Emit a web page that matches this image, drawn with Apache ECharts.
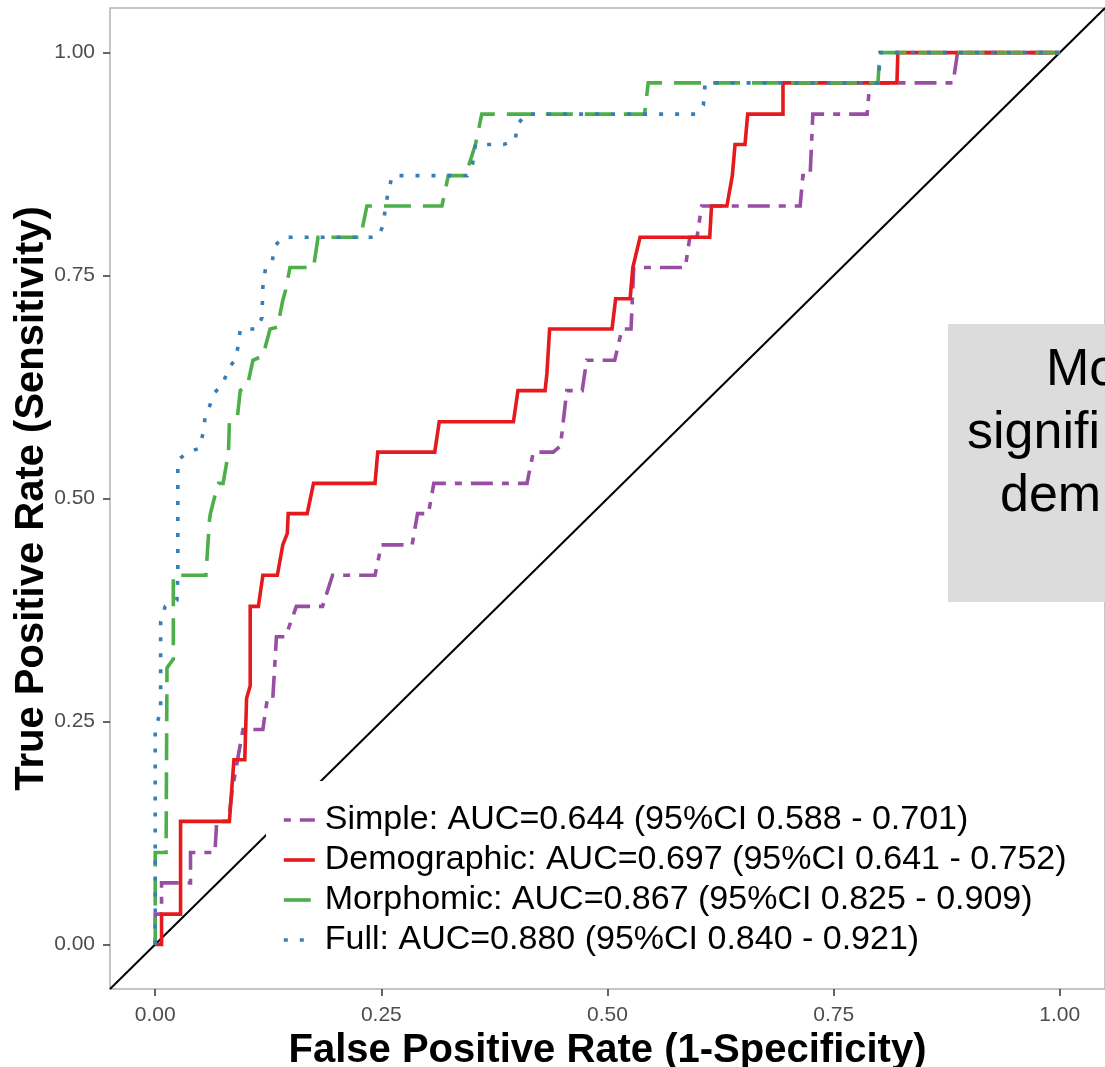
<!DOCTYPE html>
<html>
<head>
<meta charset="utf-8">
<script src="https://cdn.jsdelivr.net/npm/echarts@6/dist/echarts.min.js"></script>
<style>
html,body{margin:0;padding:0;background:#fff;}
#chart{width:1105px;height:1067px;}
</style>
</head>
<body>
<div id="chart"></div>
<script>
// ---- data ----
const tickValues = [0, 0.25, 0.5, 0.75, 1];
const seriesNames = [
  'Simple: AUC=0.644 (95%CI 0.588 - 0.701)',
  'Demographic: AUC=0.697 (95%CI 0.641 - 0.752)',
  'Morphomic: AUC=0.867 (95%CI 0.825 - 0.909)',
  'Full: AUC=0.880 (95%CI 0.840 - 0.921)'
];
const simplePts = [[0,0],[0,0.034],[0.007,0.034],[0.007,0.069],[0.039,0.069],[0.039,0.103],[0.066,0.103],[0.068,0.138],[0.081,0.138],[0.085,0.172],[0.091,0.207],[0.097,0.241],[0.119,0.241],[0.124,0.276],[0.130,0.276],[0.134,0.345],[0.144,0.345],[0.156,0.379],[0.185,0.379],[0.196,0.414],[0.243,0.414],[0.250,0.448],[0.284,0.448],[0.290,0.483],[0.302,0.483],[0.308,0.517],[0.411,0.517],[0.418,0.552],[0.440,0.552],[0.448,0.559],[0.455,0.621],[0.472,0.621],[0.477,0.655],[0.508,0.655],[0.516,0.690],[0.526,0.690],[0.529,0.759],[0.586,0.759],[0.591,0.793],[0.599,0.793],[0.604,0.828],[0.713,0.828],[0.716,0.862],[0.724,0.862],[0.727,0.931],[0.787,0.931],[0.790,0.966],[0.882,0.966],[0.887,1],[1,1]];
const demographicPts = [[0,0],[0.007,0],[0.007,0.034],[0.028,0.034],[0.028,0.138],[0.082,0.138],[0.087,0.207],[0.099,0.207],[0.101,0.276],[0.105,0.290],[0.105,0.379],[0.114,0.379],[0.119,0.414],[0.135,0.414],[0.141,0.448],[0.146,0.461],[0.147,0.483],[0.168,0.483],[0.175,0.517],[0.243,0.517],[0.246,0.552],[0.309,0.552],[0.314,0.586],[0.396,0.586],[0.401,0.621],[0.431,0.621],[0.433,0.640],[0.436,0.690],[0.505,0.690],[0.509,0.724],[0.525,0.724],[0.528,0.759],[0.536,0.793],[0.613,0.793],[0.615,0.828],[0.632,0.828],[0.638,0.862],[0.640,0.862],[0.641,0.897],[0.652,0.897],[0.655,0.931],[0.694,0.931],[0.694,0.966],[0.820,0.966],[0.821,1],[1,1]];
const morphomicPts = [[0,0],[0,0.103],[0.012,0.103],[0.013,0.310],[0.020,0.320],[0.020,0.414],[0.056,0.414],[0.060,0.476],[0.061,0.483],[0.066,0.503],[0.070,0.517],[0.075,0.517],[0.081,0.552],[0.082,0.586],[0.091,0.593],[0.094,0.621],[0.102,0.627],[0.108,0.655],[0.119,0.660],[0.127,0.690],[0.135,0.692],[0.141,0.722],[0.144,0.733],[0.149,0.759],[0.175,0.759],[0.180,0.793],[0.227,0.793],[0.234,0.828],[0.317,0.828],[0.324,0.862],[0.343,0.862],[0.354,0.897],[0.361,0.931],[0.541,0.931],[0.545,0.966],[0.799,0.966],[0.801,1],[1,1]];
const fullPts = [[0,0],[0,0.241],[0.006,0.262],[0.006,0.362],[0.011,0.379],[0.024,0.386],[0.025,0.414],[0.025,0.543],[0.036,0.552],[0.048,0.556],[0.053,0.573],[0.055,0.590],[0.061,0.606],[0.066,0.619],[0.075,0.629],[0.081,0.646],[0.088,0.655],[0.092,0.672],[0.094,0.690],[0.113,0.690],[0.118,0.703],[0.119,0.737],[0.122,0.759],[0.129,0.765],[0.133,0.784],[0.141,0.793],[0.246,0.793],[0.252,0.806],[0.254,0.823],[0.257,0.841],[0.262,0.862],[0.345,0.862],[0.351,0.876],[0.354,0.897],[0.385,0.897],[0.398,0.901],[0.400,0.918],[0.409,0.931],[0.597,0.931],[0.606,0.941],[0.608,0.966],[0.799,0.966],[0.802,1],[1,1]];
const diagonalPts = [[-0.05,-0.05],[1.05,1.05]];
const boxLines = ['Mo', 'signifi', 'dem'];

// ---- chart ----
const FONT = '"Liberation Sans", Arial, Helvetica, sans-serif';
const chart = echarts.init(document.getElementById('chart'), null, {renderer: 'canvas'});
const axisCommon = {
  type: 'value', min: -0.05, max: 1.05,
  splitLine: {show: false},
  axisLine: {show: false, onZero: false},
  axisTick: {show: true, customValues: tickValues, length: 7, lineStyle: {color: '#333', width: 1.5}},
  axisLabel: {customValues: tickValues, color: '#4d4d4d', fontSize: 21, fontFamily: FONT,
    formatter: v => v.toFixed(2)},
  nameLocation: 'middle',
  nameTextStyle: {fontSize: 40, fontWeight: 'bold', color: '#000', fontFamily: FONT}
};
function lineSeries(name, data, color, type) {
  return {
    name, type: 'line', data, symbol: 'none', smooth: false,
    lineStyle: {color, width: 3.6, type, cap: 'butt', join: 'miter'},
    itemStyle: {color}, z: 3
  };
}
chart.setOption({
  animation: false,
  grid: {left: 110, top: 8, right: 0, bottom: 78, containLabel: false, outerBoundsMode: 'none',
    show: true, borderColor: '#b3b3b3', borderWidth: 1.5, backgroundColor: '#fff'},
  xAxis: Object.assign({}, axisCommon, {
    name: 'False Positive Rate (1-Specificity)', nameGap: 33,
    axisLabel: Object.assign({}, axisCommon.axisLabel, {margin: 16})
  }),
  yAxis: Object.assign({}, axisCommon, {
    name: 'True Positive Rate (Sensitivity)', nameGap: 58, nameMoveOverlap: false,
    axisLabel: Object.assign({}, axisCommon.axisLabel, {margin: 15})
  }),
  legend: {
    orient: 'vertical', left: 266, top: 781,
    padding: [19, 20, 12, 16], itemGap: 0,
    itemWidth: 31, itemHeight: 14,
    backgroundColor: '#fff', z: 5,
    itemStyle: {opacity: 0},
    lineStyle: {width: 3.6},
    textStyle: {fontSize: 34, fontFamily: FONT, color: '#000', lineHeight: 40, padding: [0, 0, 0, 5]},
    data: seriesNames
  },
  series: [
    {type: 'line', data: diagonalPts, symbol: 'none', silent: true,
      lineStyle: {color: '#000', width: 2}, z: 2},
    lineSeries(seriesNames[0], simplePts, '#984ea3', [7, 9, 22, 9]),
    lineSeries(seriesNames[1], demographicPts, '#e41a1c', 'solid'),
    lineSeries(seriesNames[2], morphomicPts, '#4daf4a', [27, 12]),
    lineSeries(seriesNames[3], fullPts, '#377eb8', [4, 12])
  ],
  graphic: [
    {type: 'rect', shape: {x: 948, y: 324, width: 200, height: 278}, style: {fill: '#dcdcdc'}, z: 10},
    {type: 'text', x: 1046, y: 371, style: {text: boxLines[0], font: '52px ' + FONT, fill: '#000', verticalAlign: 'middle', align: 'left'}, z: 11},
    {type: 'text', x: 967, y: 434, style: {text: boxLines[1], font: '52px ' + FONT, fill: '#000', verticalAlign: 'middle', align: 'left'}, z: 11},
    {type: 'text', x: 1000, y: 497, style: {text: boxLines[2], font: '52px ' + FONT, fill: '#000', verticalAlign: 'middle', align: 'left'}, z: 11}
  ]
});
</script>
</body>
</html>
